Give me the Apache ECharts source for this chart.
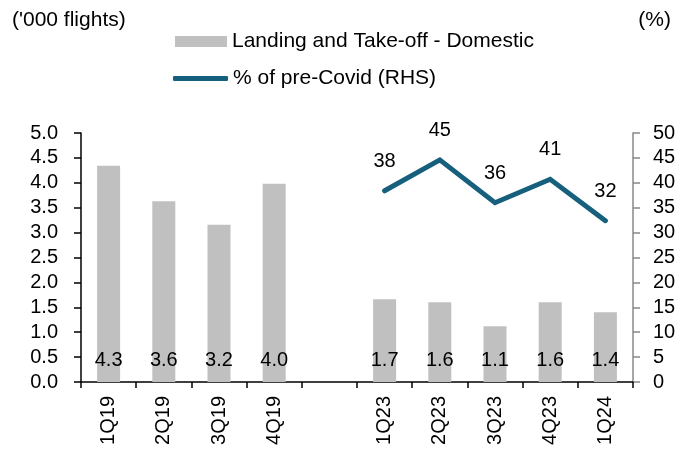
<!DOCTYPE html>
<html>
<head>
<meta charset="utf-8">
<script src="https://cdn.jsdelivr.net/npm/echarts@6/dist/echarts.min.js"></script>
<style>
  html, body { margin: 0; padding: 0; background: #fff; }
  #chart { width: 685px; height: 452px; }
</style>
</head>
<body>
<div id="chart"></div>
<script>
// categories (blank gap between 2019 and 2023)
const categories = ['1Q19', '2Q19', '3Q19', '4Q19', '', '1Q23', '2Q23', '3Q23', '4Q23', '1Q24']
// '000 flights, domestic landing and take-off
const domesticFlights = [4.34, 3.63, 3.16, 3.98, null, 1.66, 1.60, 1.12, 1.60, 1.40]
// % of pre-Covid (RHS)
const preCovidPct = [null, null, null, null, null, 38.4, 44.6, 36.0, 40.7, 32.4]
const leftTicks = { min: 0, max: 5, interval: 0.5 }
const rightTicks = { min: 0, max: 50, interval: 5 }

const barName = 'Landing and Take-off - Domestic'
const lineName = '% of pre-Covid (RHS)'
const font = 'Liberation Sans, Arial, sans-serif'

const chart = echarts.init(document.getElementById('chart'))
const option = {
  animation: false,
  textStyle: { fontFamily: font, color: '#000' },
  title: [
    { text: "('000 flights)", left: 7, top: 5, textStyle: { fontSize: 21, fontWeight: 'normal', color: '#000', fontFamily: font } },
    { text: '(%)', right: 9, top: 5, textStyle: { fontSize: 21, fontWeight: 'normal', color: '#000', fontFamily: font } }
  ],
  legend: [
    {
      data: [barName], left: 170, top: 26, icon: 'rect',
      itemWidth: 52, itemHeight: 11,
      textStyle: { fontSize: 21, color: '#000', fontFamily: font }
    },
    {
      data: [lineName], left: 168, top: 63, icon: 'roundRect',
      itemWidth: 55, itemHeight: 5,
      textStyle: { fontSize: 21, color: '#000', fontFamily: font }
    }
  ],
  grid: { left: 81, right: 52, top: 133, bottom: 70, containLabel: false },
  xAxis: {
    type: 'category',
    data: categories,
    axisLine: { lineStyle: { color: '#000', width: 1.5 } },
    axisTick: { show: true, length: 6, alignWithLabel: false, lineStyle: { color: '#000', width: 1.5 } },
    axisLabel: { rotate: 90, margin: 14, fontSize: 20, color: '#000', interval: 0 }
  },
  yAxis: [
    {
      type: 'value', min: leftTicks.min, max: leftTicks.max, interval: leftTicks.interval,
      axisLine: { show: true, lineStyle: { color: '#000', width: 1.5 } },
      axisTick: { show: true, length: 7, lineStyle: { color: '#000', width: 1.5 } },
      axisLabel: { margin: 23, fontSize: 20, color: '#000', formatter: v => v.toFixed(1) },
      splitLine: { show: false }
    },
    {
      type: 'value', min: rightTicks.min, max: rightTicks.max, interval: rightTicks.interval,
      position: 'right',
      axisLine: { show: true, lineStyle: { color: '#888', width: 1.5 } },
      axisTick: { show: true, length: 7, lineStyle: { color: '#888', width: 1.5 } },
      axisLabel: { margin: 20, fontSize: 20, color: '#000' },
      splitLine: { show: false }
    }
  ],
  series: [
    {
      name: barName,
      type: 'bar',
      data: domesticFlights,
      barWidth: 23,
      itemStyle: { color: '#c0c0c0' },
      label: {
        show: true, position: 'insideBottom', distance: 12,
        fontSize: 20, color: '#000', fontFamily: font,
        formatter: p => p.value == null ? '' : p.value.toFixed(1)
      }
    },
    {
      name: lineName,
      type: 'line',
      yAxisIndex: 1,
      data: preCovidPct,
      symbol: 'circle',
      symbolSize: 1,
      showSymbol: true,
      lineStyle: { color: '#17607d', width: 5, cap: 'round', join: 'miter' },
      itemStyle: { color: '#17607d' },
      label: {
        show: true, position: 'top', distance: 19,
        fontSize: 20, color: '#000', fontFamily: font,
        formatter: p => p.value == null ? '' : p.value.toFixed(0)
      }
    }
  ]
}
chart.setOption(option)
</script>
</body>
</html>
